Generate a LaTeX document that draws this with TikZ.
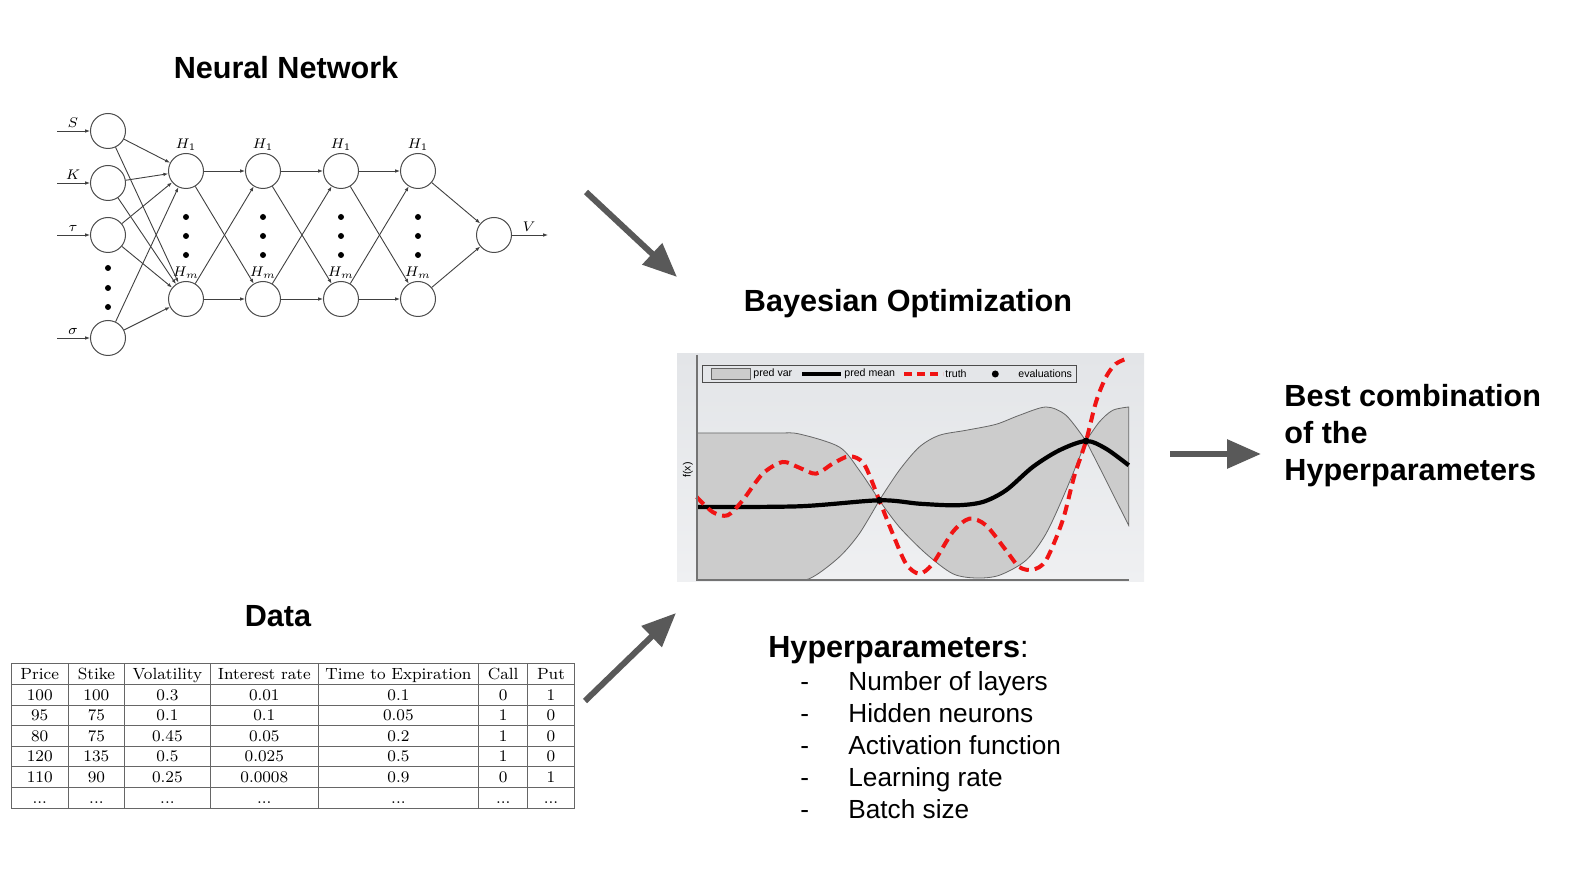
\documentclass[tikz,border=0pt]{standalone}
\usepackage{fontspec}
\usepackage{amsmath}
\usetikzlibrary{arrows.meta}
\newfontfamily\arial{Liberation Sans}
\definecolor{arrowgray}{HTML}{595959}
\definecolor{varfill}{HTML}{CCCCCC}
\definecolor{truthred}{HTML}{F01414}
\definecolor{bgtop}{HTML}{E3E5E8}
\definecolor{bgbottom}{HTML}{EFF0F2}
\newcommand{\celldots}{...}

\begin{document}
\begin{tikzpicture}
[
    x=0.5pt, y=-0.5pt,
    neuron/.style={circle, draw=black!70, line width=0.5pt, minimum size=17.5pt, inner sep=0pt},
    conn/.style={draw=black!75, line width=0.45pt, -{Latex[length=2.4pt,width=1.8pt]}},
    nnlab/.style={font=\fontsize{6.6}{8}\selectfont, inner sep=0pt, anchor=south},
    title/.style={font=\arial\bfseries\fontsize{15.3}{18}\selectfont, inner sep=0pt, anchor=base},
    item/.style={font=\arial\fontsize{13.1}{16}\selectfont, inner sep=0pt, anchor=base west},
    bigarrow/.style={draw=arrowgray, line width=3pt, -{Triangle[length=17pt,width=14pt]}},
    cell/.style={font=\fontsize{8.1}{9}\selectfont, inner sep=0pt, anchor=base},
    tabline/.style={draw=black!60, line width=0.5pt},
    legendtxt/.style={font=\arial\fontsize{5.3}{6}\selectfont, inner sep=0pt, anchor=west},
]
\useasboundingbox (0,0) rectangle (1576,887);

\shade[top color=bgtop, bottom color=bgbottom] (677,354) rectangle (1144,582);
\begin{scope}[shift={(-4,-3)}]
\filldraw[fill=varfill, draw=black!60, line width=0.4pt]
    plot[smooth] coordinates {(700.7,436) (780,436) (803.3,437) (843.3,450) (863.3,473.3) (883.3,503.3)}
 -- plot[smooth] coordinates {(883.3,503.3) (903.3,473.3) (923.3,450) (943.3,438.3) (970,433.3) (1000,427.3) (1023.3,418.3) (1050,410) (1070,418.3) (1090,444)}
 -- plot[smooth] coordinates {(1090,444) (1103.3,425) (1116.7,413.3) (1132.7,410)}
 -- (1132.7,528.3)
 -- plot[smooth] coordinates {(1132.7,528.3) (1116.7,496.7) (1103.3,470) (1090,444)}
 -- plot[smooth] coordinates {(1090,444) (1070,493.3) (1050,536.7) (1030,563.3) (1003.3,578.3) (980,581) (956.7,576.7) (930,556.7) (903.3,530) (883.3,503.3)}
 -- plot[smooth] coordinates {(883.3,503.3) (863.3,536.7) (843.3,560) (816.7,580) (796.7,583.3) (700.7,583.3)}
 -- cycle;
\draw[black, line width=2.1pt] plot[smooth] coordinates {(700.7,510) (803.3,509.3) (883.3,503.3) (923.3,506.7) (960,508.3) (986.7,505) (1010,493.3) (1036.7,470) (1063.3,453.3) (1090,444) (1110,451.7) (1132.7,468.3)};
\draw[truthred, line width=2pt, dash pattern=on 5pt off 3pt] plot[smooth] coordinates {(700.7,500) (716.7,515) (731.7,518.3) (746.7,503.3) (766.7,476.7) (786.7,465) (803.3,470.7) (820,476.7) (836.7,466.7) (853.3,459.3) (868,467) (883.3,503.3) (896.7,536.7) (910,566.7) (923.3,576.7) (936.7,566.7) (956.7,535) (973.3,521.7) (990,528.3) (1010,553.3) (1023.3,570) (1036.7,572.7) (1050,563.3) (1066.7,523.3) (1078,480) (1090,444) (1100,405) (1110,380) (1120,366.7) (1132.7,361)};
\fill (883.3,503.3) circle (3.5);
\fill (1090,444) circle (3.5);
\draw[black!55, line width=0.8pt] (700.7,358) -- (700.7,583.3) -- (1132.7,583.3);
\node[legendtxt, rotate=90, anchor=center] (fx) at (692,473) {f(x)};
\draw[black!70, line width=0.5pt] (706.7,368.3) rectangle (1080.7,386);
\filldraw[fill=varfill, draw=black!60, line width=0.4pt] (715,371.5) rectangle (754.3,382);
\node[legendtxt] (lgvar) at (757,377) {pred var};
\draw[black, line width=1.8pt] (806,377) -- (845,377);
\node[legendtxt] (lgmean) at (848,377) {pred mean};
\draw[truthred, line width=1.8pt, dash pattern=on 4pt off 2.5pt] (908,377) -- (947,377);
\node[legendtxt] (lgtruth) at (949,377) {truth};
\fill (999.3,377) circle (3.5);
\node[legendtxt] (lgeval) at (1022,377) {evaluations};
\end{scope}

\node[title] (nntitle) at (286,79) {Neural Network};
\node[title] (botitle) at (908,312) {Bayesian Optimization};
\node[title] (datatitle) at (278,627) {Data};
\node[title, anchor=base west] (hyp) at (768,658) {Hyperparameters\textmd{:}};
\foreach \i/\txt in {0/Number of layers, 1/Hidden neurons, 2/Activation function, 3/Learning rate, 4/Batch size} {
    \node[item] (dash\i) at (800,{690.5+32*\i}) {-};
    \node[item] (hp\i) at (848,{690.5+32*\i}) {\txt};
}
\node[title, anchor=base west] (best1) at (1284,407) {Best combination};
\node[title, anchor=base west] (best2) at (1284,444) {of the};
\node[title, anchor=base west] (best3) at (1284,481) {Hyperparameters};

\coordinate (nnout) at (586,192);
\coordinate (boin1) at (677,277);
\coordinate (dataout) at (585,701);
\coordinate (boin2) at (676,613);
\coordinate (boout) at (1170,454);
\coordinate (bestin) at (1261,454);
\draw[bigarrow] (nnout) -- (boin1);
\draw[bigarrow] (dataout) -- (boin2);
\draw[bigarrow] (boout) -- (bestin);

\foreach \n/\y/\lab in {s/131/S, k/183/K, t/235/\tau, g/338/\sigma} {
    \node[neuron] (in\n) at (108,\y) {};
    \coordinate (x\n) at (57,\y);
    \draw[conn] (x\n) -- (in\n);
    \node[nnlab] (l\n) at (73,{\y-3}) {$\lab$};
}
\foreach \y in {268,288,307} \fill (108,\y) circle (3);
\foreach \i/\x in {1/186,2/263,3/341,4/418} {
    \node[neuron] (t\i) at (\x,171) {};
    \node[neuron] (b\i) at (\x,299) {};
    \node[nnlab] (lt\i) at (\x,150.5) {$H_1$};
    \node[nnlab] (lb\i) at (\x,279) {$H_m$};
    \foreach \y in {217,236,255} \fill (\x,\y) circle (3);
}
\foreach \n in {s,k,t,g} {
    \draw[conn] (in\n) -- (t1);
    \draw[conn] (in\n) -- (b1);
}
\foreach \i/\j in {1/2,2/3,3/4} {
    \draw[conn] (t\i) -- (t\j);
    \draw[conn] (t\i) -- (b\j);
    \draw[conn] (b\i) -- (t\j);
    \draw[conn] (b\i) -- (b\j);
}
\node[neuron] (out) at (494,235) {};
\draw[conn] (t4) -- (out);
\draw[conn] (b4) -- (out);
\coordinate (xv) at (548,235);
\draw[conn] (out) -- (xv);
\node[nnlab] (lv) at (529,232) {$V$};

\draw[tabline] (11,664) rectangle (574,808.2);
\foreach \x in {68.3,124.5,210.3,318.2,478.5,527.9}
    \draw[tabline] (\x,664) -- (\x,808.2);
\foreach \k in {1,2,3,4,5,6}
    \draw[tabline] (11,{664+20.6*\k}) -- (574,{664+20.6*\k});
\foreach \r/\cells in {0/{Price,Stike,Volatility,Interest rate,Time to Expiration,Call,Put},
                       1/{100,100,0.3,0.01,0.1,0,1},
                       2/{95,75,0.1,0.1,0.05,1,0},
                       3/{80,75,0.45,0.05,0.2,1,0},
                       4/{120,135,0.5,0.025,0.5,1,0},
                       5/{110,90,0.25,0.0008,0.9,0,1},
                       6/{\celldots,\celldots,\celldots,\celldots,\celldots,\celldots,\celldots}} {
    \foreach \txt [count=\c] in \cells {
        \pgfmathsetmacro\cx{{39.7,96.4,167.4,264.3,398.4,503.2,551}[\c-1]}
        \node[cell] (cell\r\c) at (\cx,{679.5+20.6*\r}) {\txt};
    }
}
\end{tikzpicture}
\end{document}
